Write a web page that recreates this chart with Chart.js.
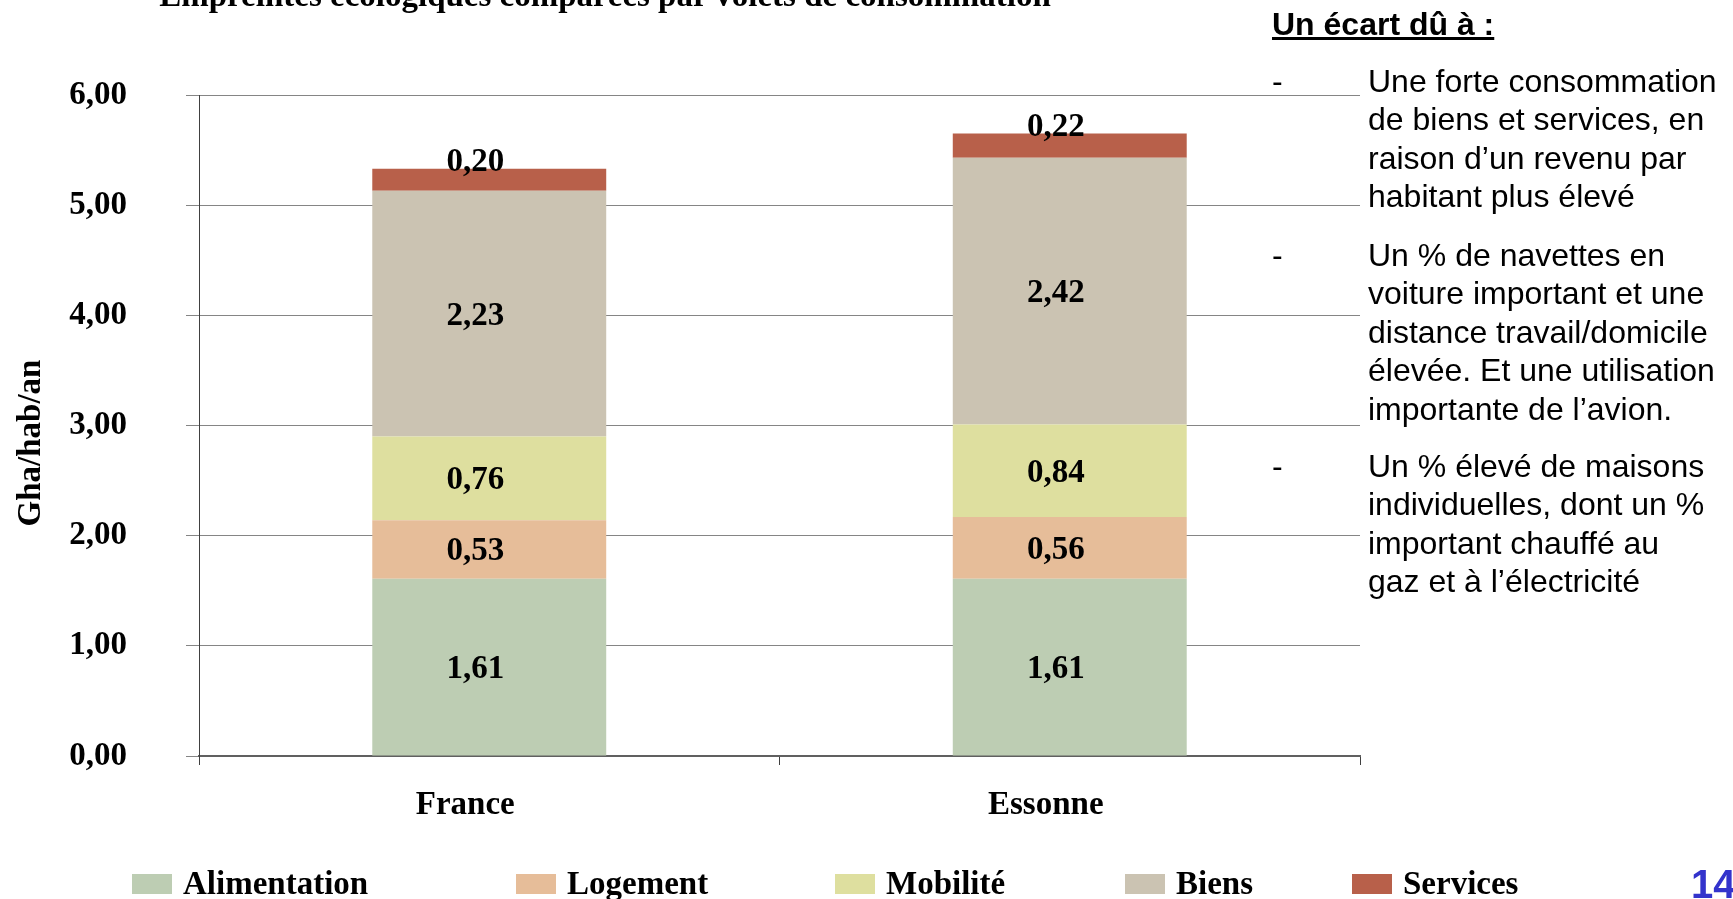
<!DOCTYPE html>
<html><head><meta charset="utf-8">
<script src="https://cdn.jsdelivr.net/npm/chart.js@4.4.1/dist/chart.umd.min.js"></script>
<style>
html,body{margin:0;padding:0;background:#fff;overflow:hidden;}
#wrap{position:relative;width:1733px;height:899px;overflow:hidden;}
canvas{position:absolute;left:0;top:0;}
.title{position:absolute;left:0;width:1210px;top:-25px;text-align:center;font-family:'Liberation Serif','Times New Roman',serif;font-weight:bold;font-size:33px;line-height:40px;color:#000;white-space:nowrap;}
.t{position:absolute;font-family:'Liberation Sans',Arial,sans-serif;font-size:32px;line-height:38.5px;color:#000;white-space:nowrap;}
.head{font-weight:bold;text-decoration:underline;}
.num{position:absolute;left:1691px;top:861px;font-family:'Liberation Sans',Arial,sans-serif;font-weight:bold;font-size:40px;line-height:46px;color:#3333CC;}
</style></head><body>
<div id="wrap">
<canvas id="c" width="1733" height="899"></canvas>
<div class="title">Empreintes écologiques comparées par volets de consommation</div>
<div class="t head" style="left:1272px;top:4.7px;">Un écart dû à :</div>
<div class="t" style="left:1272px;top:61.7px;">-</div>
<div class="t" style="left:1368px;top:61.7px;">Une forte consommation<br>de biens et services, en<br>raison d’un revenu par<br>habitant plus élevé</div>
<div class="t" style="left:1272px;top:235.7px;">-</div>
<div class="t" style="left:1368px;top:235.7px;">Un % de navettes en<br>voiture important et une<br>distance travail/domicile<br>élevée. Et une utilisation<br>importante de l’avion.</div>
<div class="t" style="left:1272px;top:446.7px;">-</div>
<div class="t" style="left:1368px;top:446.7px;">Un % élevé de maisons<br>individuelles, dont un %<br>important chauffé au<br>gaz et à l’électricité</div>
<div class="num">14</div>
</div>
<script>
// ---- data ----
const categories = ['France', 'Essonne'];
const seriesNames = ['Alimentation', 'Logement', 'Mobilité', 'Biens', 'Services'];
const alimentation = [1.61, 1.61];
const logement = [0.53, 0.56];
const mobilite = [0.76, 0.84];
const biens = [2.23, 2.42];
const services = [0.20, 0.22];
const yAxisTitle = 'Gha/hab/an';
const yMin = 0, yMax = 6, yStep = 1;

// ---- styles ----
const seriesColors = ['#BDCDB3', '#E6BD99', '#DEDF9F', '#CBC3B2', '#B8604A'];
const SERIF = "'Liberation Serif','Times New Roman',serif";
const fmt = v => Number(v).toFixed(2).replace('.', ',');

const seriesValues = [alimentation, logement, mobilite, biens, services];
const datasets = seriesNames.map((name, i) => ({
  label: name,
  data: seriesValues[i],
  backgroundColor: seriesColors[i],
  borderWidth: 0,
  barPercentage: 0.403,
  categoryPercentage: 1.0
}));

const valueLabels = {
  id: 'valueLabels',
  afterDatasetsDraw(chart) {
    const ctx = chart.ctx;
    ctx.save();
    ctx.font = 'bold 33px ' + SERIF;
    ctx.fillStyle = '#000';
    ctx.textAlign = 'center';
    ctx.textBaseline = 'alphabetic';
    const last = chart.data.datasets.length - 1;
    chart.data.datasets.forEach((ds, i) => {
      const meta = chart.getDatasetMeta(i);
      meta.data.forEach((el, j) => {
        const x = el.x - 14;
        let y;
        if (i === last) y = el.y + 2;
        else y = (el.y + el.base) / 2 + 11;
        ctx.fillText(fmt(ds.data[j]), x, y);
      });
    });
    ctx.restore();
  }
};

const customLegend = {
  id: 'customLegend',
  afterDraw(chart) {
    const ctx = chart.ctx;
    const xs = [132, 516, 835, 1125, 1352];
    ctx.save();
    ctx.font = 'bold 33px ' + SERIF;
    ctx.textAlign = 'left';
    ctx.textBaseline = 'alphabetic';
    chart.data.datasets.forEach((ds, i) => {
      ctx.fillStyle = ds.backgroundColor;
      ctx.fillRect(xs[i], 874, 40, 20);
      ctx.fillStyle = '#000';
      ctx.fillText(ds.label, xs[i] + 51, 894);
    });
    // y axis title
    ctx.translate(31, 443);
    ctx.rotate(-Math.PI / 2);
    ctx.textAlign = 'center';
    ctx.textBaseline = 'middle';
    ctx.fillText(yAxisTitle, 0, 0);
    ctx.restore();
  }
};

new Chart(document.getElementById('c'), {
  type: 'bar',
  data: { labels: categories, datasets },
  options: {
    responsive: false,
    animation: false,
    layout: { padding: { top: 95, right: 373, bottom: 0, left: 0 } },
    plugins: { legend: { display: false }, tooltip: { enabled: false } },
    scales: {
      x: {
        stacked: true,
        offset: true,
        grid: { display: true, drawOnChartArea: false, drawTicks: true, tickLength: 9, color: '#404040', offset: true },
        border: { display: true, color: '#606060', width: 2 },
        ticks: { font: { family: SERIF, size: 33, weight: 'bold' }, color: '#000', padding: 21, labelOffset: -24, maxRotation: 0 },
        afterFit(s) { s.height = 143; }
      },
      y: {
        stacked: true,
        min: yMin, max: yMax,
        ticks: { stepSize: yStep, callback: v => fmt(v), font: { family: SERIF, size: 33, weight: 'bold' }, color: '#000', padding: 59 },
        grid: { color: '#858585', lineWidth: 1, tickLength: 13 },
        border: { display: true, color: '#404040', width: 1 },
        afterFit(s) { s.width = 199; }
      }
    }
  },
  plugins: [valueLabels, customLegend]
});
</script>
</body></html>
